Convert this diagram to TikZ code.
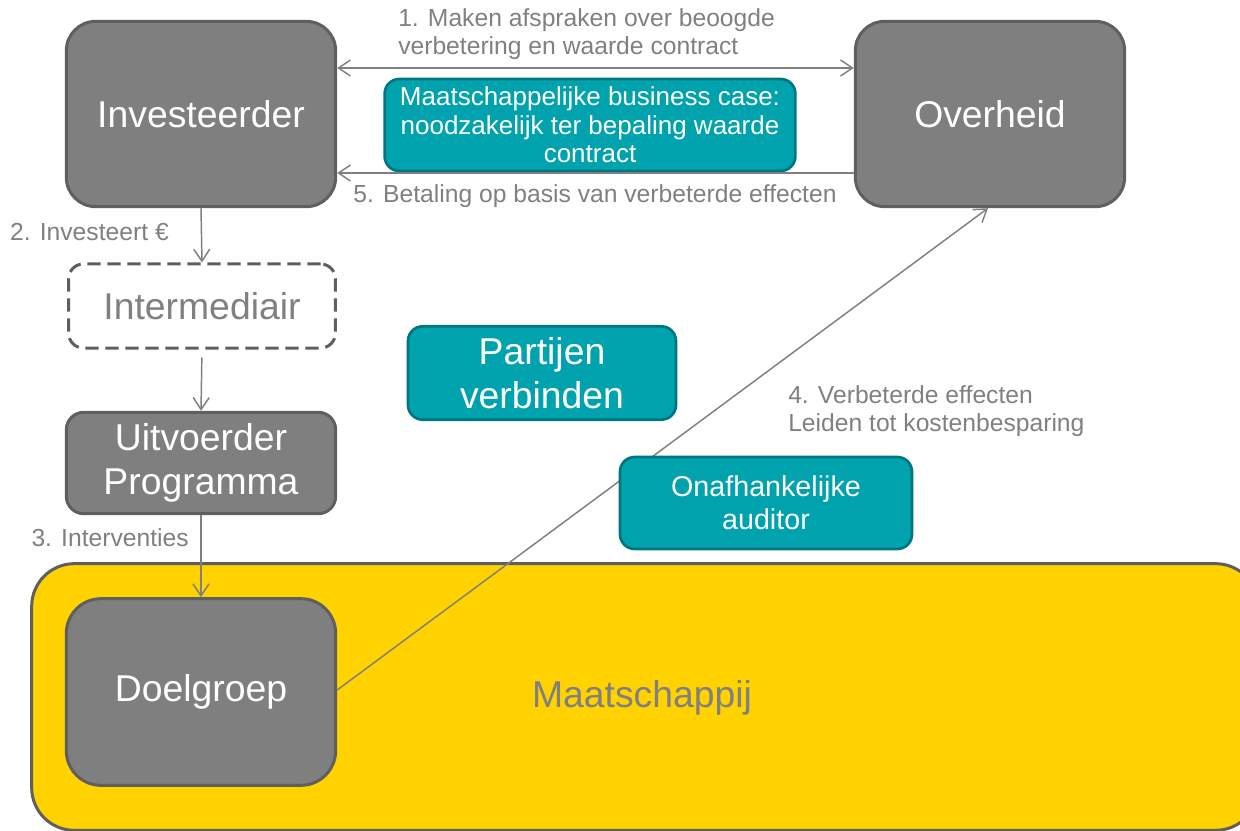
\documentclass[tikz,border=0pt]{standalone}
\usepackage{fontspec}
\setmainfont{Liberation Sans}
\usetikzlibrary{arrows.meta}
\definecolor{boxgray}{HTML}{7F7F7F}
\definecolor{boxedge}{HTML}{5F5F5F}
\definecolor{tealfill}{HTML}{00A3AD}
\definecolor{tealedge}{HTML}{00777F}
\definecolor{socyellow}{HTML}{FFD200}
\definecolor{lblgray}{HTML}{808080}
\newcommand{\bigfont}{\fontsize{28pt}{33.5pt}\selectfont}
\newcommand{\midfont}{\fontsize{21.5pt}{25pt}\selectfont}
\newcommand{\smallfont}{\fontsize{19.5pt}{21.5pt}\selectfont}
\newcommand{\lblfont}{\fontsize{18.5pt}{21pt}\selectfont}
\tikzset{
  graybox/.style={draw=boxedge, fill=boxgray, line width=2.25pt, text=white,
    font=\bigfont, align=center, inner sep=0pt, rounded corners=22pt},
  tealbox/.style={draw=tealedge, fill=tealfill, line width=2pt, text=white,
    align=center, inner sep=0pt, rounded corners=11pt},
  lbl/.style={text=lblgray, font=\lblfont, inner sep=0pt},
  arr/.style={draw=lblgray, line width=1.1pt, -{Straight Barb[length=9pt,width=12pt,line width=1.1pt]}}
}
\begin{document}
\begin{tikzpicture}[x=0.75pt,y=-0.75pt]
\useasboundingbox (0,0) rectangle (1240,831);
% society region
\node[draw=boxedge, fill=socyellow, line width=2.25pt, rounded corners=32pt,
  minimum width=920pt, minimum height=200pt] (maat) at (645,697) {};
\node[text=lblgray, font=\bigfont] (maatlbl) at (642,698) {Maatschappij};
% parties
\node[graybox, minimum width=202pt, minimum height=139pt] (inv) at (201,114) {Investeerder};
\node[graybox, minimum width=202pt, minimum height=139pt] (ov) at (990,114) {Overheid};
\node[draw=boxedge, dashed, dash pattern=on 10pt off 5pt, line width=2.25pt, fill=white,
  text=lblgray, font=\bigfont, rounded corners=11pt, minimum width=200pt,
  minimum height=63pt] (inter) at (202,306) {Intermediair};
\node[graybox, rounded corners=13pt, minimum width=202pt, minimum height=76pt] (uit) at (201,463) {Uitvoerder\\Programma};
\node[graybox, rounded corners=26pt, minimum width=202pt, minimum height=140pt] (doel) at (201,692) {Doelgroep};
\node[tealbox, font=\smallfont, minimum width=308pt, minimum height=69pt] (bcase) at (590,125)
  {Maatschappelijke business case:\\noodzakelijk ter bepaling waarde\\contract};
\node[tealbox, font=\bigfont, minimum width=201pt, minimum height=70pt] (verb) at (542,373) {Partijen\\verbinden};
% flows
\draw[arr, {Straight Barb[length=9pt,width=12pt,line width=1.1pt]}-{Straight Barb[length=9pt,width=12pt,line width=1.1pt]}]
  ([yshift=34.5pt]inv.east) -- ([yshift=34.5pt]ov.west);
\draw[arr] ([yshift=-44.25pt]ov.west) -- ([yshift=-44.25pt]inv.east);
\draw[arr] (inv.south) -- (inter.north);
\draw[arr, shorten <=6pt] (inter.south) -- (uit.north);
\draw[arr] (uit.south) -- (doel.north);
\draw[arr] ([yshift=1.5pt]doel.east) -- ([xshift=-1.5pt]ov.south);
\node[tealbox, font=\midfont, minimum width=219pt, minimum height=69pt] (audit) at (766,503) {Onafhankelijke\\auditor};
% labels
\node[lbl, anchor=west, align=left] (l1) at (398,34) {1. Maken afspraken over beoogde\\verbetering en waarde contract};
\node[lbl] (l5) at (595,196) {5. Betaling op basis van verbeterde effecten};
\node[lbl, anchor=east] (l2) at (169,232) {2. Investeert €};
\node[lbl, anchor=east] (l3) at (189,538) {3. Interventies};
\node[lbl, anchor=west, align=left] (l4) at (788,411) {4. Verbeterde effecten\\Leiden tot kostenbesparing};
\end{tikzpicture}
\end{document}
